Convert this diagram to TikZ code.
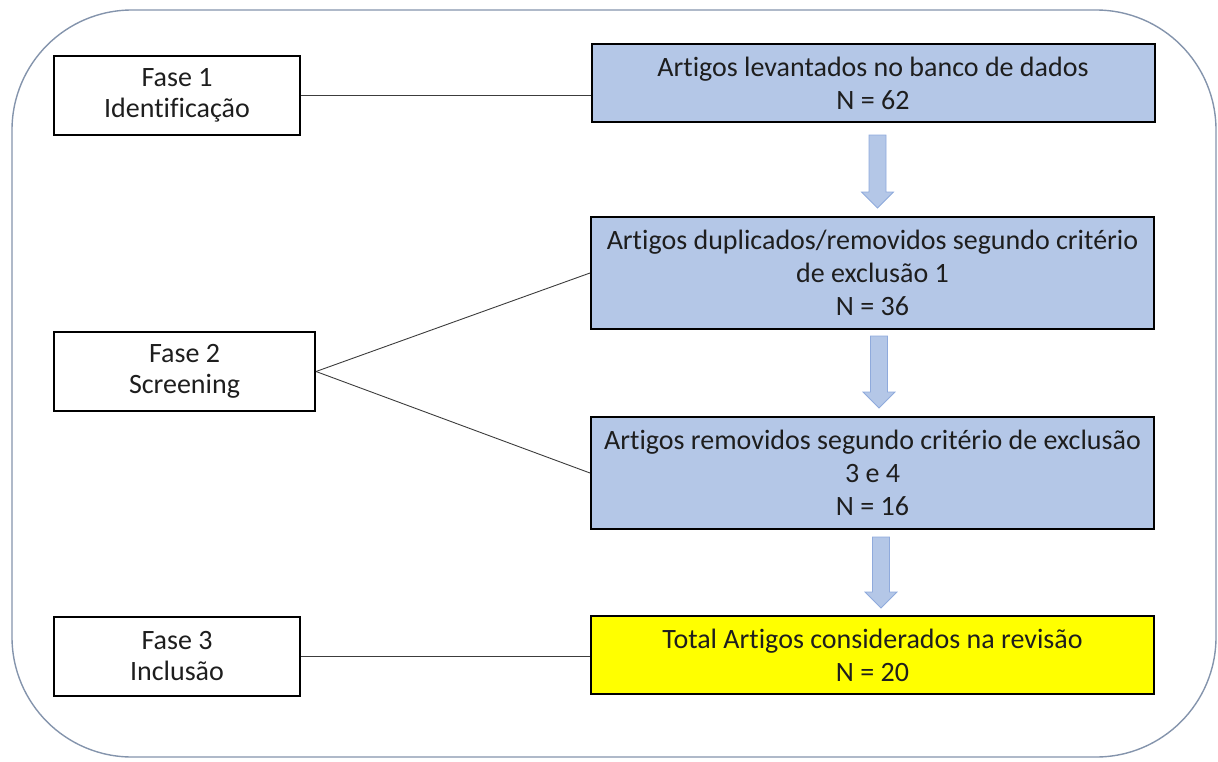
\documentclass[tikz,border=0pt]{standalone}
\usepackage{fontspec}
\setmainfont{Carlito}[Ligatures={NoCommon}]
\usetikzlibrary{calc}
\definecolor{boxblue}{RGB}{180,199,231}
\definecolor{arrowline}{RGB}{143,170,220}
\definecolor{frameline}{RGB}{132,148,172}
\definecolor{linkgray}{RGB}{60,60,60}
\definecolor{textdark}{RGB}{30,30,30}
\definecolor{brightyellow}{RGB}{255,255,0}
\tikzset{
  phasebox/.style={draw=black, line width=2pt, fill=white, align=center, inner sep=0pt,
    font=\fontsize{28}{31}\selectfont, text=textdark},
  stagebox/.style={draw=black, line width=2pt, fill=boxblue, align=center, inner sep=0pt,
    font=\fontsize{28}{33}\selectfont, text=textdark, minimum width=563pt},
  finalbox/.style={stagebox, fill=brightyellow},
  link/.style={draw=linkgray, line width=0.9pt},
  blockarrow/.style={fill=boxblue, draw=arrowline, line width=0.8pt, line join=miter},
}
\newcommand{\downarrowshape}[3]{%
  \path[blockarrow] (#1-8.5,#2) -- (#1+8.5,#2) -- (#1+8.5,#3-16) -- (#1+16,#3-16) -- (#1,#3) -- (#1-16,#3-16) -- (#1-8.5,#3-16) -- cycle;}
\begin{document}
\begin{tikzpicture}[x=1pt,y=-1pt]
\useasboundingbox (0,0) rectangle (1218,761);
% outer frame
\draw[frameline, line width=1.4pt, rounded corners=120pt] (12,10) rectangle (1216,757);

% phase boxes
\node[phasebox, minimum width=246pt, minimum height=79pt] (f1) at (177,95.5) {Fase 1\\Identificação};
\node[phasebox, minimum width=261pt, minimum height=79pt] (f2) at (184.5,371.5) {Fase 2\\Screening};
\node[phasebox, minimum width=246pt, minimum height=79pt] (f3) at (177,656.5) {Fase 3\\Inclusão};

% stage boxes
\node[stagebox, minimum height=78pt] (b1) at (873,83) {Artigos levantados no banco de dados\\N = 62};
\node[stagebox, minimum height=112pt] (b2) at (872.5,273) {Artigos duplicados/removidos segundo critério\\de exclusão 1\\N = 36};
\node[stagebox, minimum height=112pt] (b3) at (872.5,473) {Artigos removidos segundo critério de exclusão\\3 e 4\\N = 16};
\node[finalbox, minimum height=78pt] (b4) at (872.5,655) {Total Artigos considerados na revisão\\N = 20};

% connectors
\draw[link] (f1.east) -- (f1.east -| b1.west);
\draw[link] (f2.east) -- (b2.west);
\draw[link] (f2.east) -- (b3.west);
\draw[link] (f3.east) -- (f3.east -| b4.west);

% block arrows
\downarrowshape{877.5}{135}{208}
\downarrowshape{879}{336}{408}
\downarrowshape{881}{537}{608}
\end{tikzpicture}
\end{document}
